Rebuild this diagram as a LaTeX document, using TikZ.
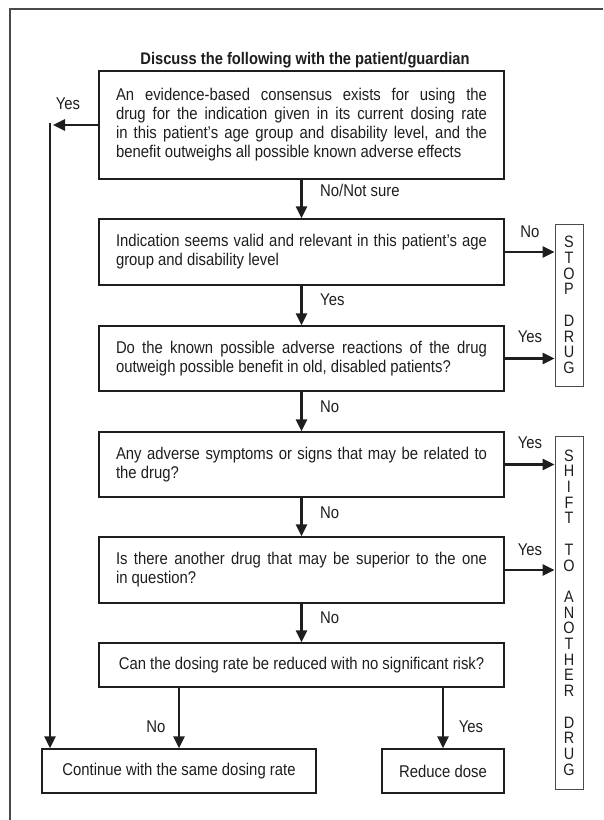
\documentclass[tikz,border=0pt]{standalone}
\usepackage{fontspec}
\setmainfont{Liberation Sans}[FakeStretch=0.875]
\usetikzlibrary{arrows.meta}
\definecolor{ink}{HTML}{1E1E1E}
\definecolor{framec}{HTML}{4A4A4A}
\newcommand\myBody{\fontsize{17}{19}\selectfont}
\newcommand\myTitle{\fontsize{16.8}{19}\selectfont\bfseries}
\newcommand\myLetters{\fontsize{16.5}{15.7}\selectfont}
\begin{document}
\begin{tikzpicture}[x=1pt,y=-1pt,
  box/.style={draw=ink, line width=1.25pt, text width=371pt, inner xsep=17pt, inner ysep=0pt,
              align=justify, font=\myBody, text=ink},
  endbox/.style={draw=ink, line width=1.25pt, inner sep=0pt, minimum height=44pt,
              align=center, font=\myBody, text=ink},
  stackbox/.style={draw=framec, line width=1pt, minimum width=28pt, inner sep=0pt,
              align=center, font=\myLetters, text=ink},
  lbl/.style={font=\myBody, text=ink, inner sep=0pt},
  ttl/.style={font=\myTitle, text=ink, inner sep=0pt},
  arr/.style={draw=ink, line width=2.7pt, -{Triangle[length=12pt,width=11pt]}}]
\useasboundingbox (0,0) rectangle (603,820);
\draw[framec, line width=1.3pt] (10,820) -- (10,9) -- (603,9);

\node[ttl] (title) at (305,60) {Discuss the following with the patient/guardian};

\node[box, minimum height=108pt] (b1) at (301.5,125)
 {An evidence-based consensus exists for using the\linebreak
  drug for the indication given in its current dosing rate\linebreak
  in this patient’s age group and disability level, and the\linebreak
  benefit outweighs all possible known adverse effects};
\node[box, minimum height=66pt] (b2) at (301.5,252)
 {Indication seems valid and relevant in this patient’s age\linebreak
  group and disability level};
\node[box, minimum height=65pt] (b3) at (301.5,358.5)
 {Do the known possible adverse reactions of the drug\linebreak
  outweigh possible benefit in old, disabled patients?};
\node[box, minimum height=65pt] (b4) at (301.5,464.5)
 {Any adverse symptoms or signs that may be related to\linebreak
  the drug?};
\node[box, minimum height=66pt] (b5) at (301.5,570)
 {Is there another drug that may be superior to the one\linebreak
  in question?};
\node[endbox, minimum width=405pt] (b6) at (301.5,665)
 {Can the dosing rate be reduced with no significant risk?};

\node[endbox, minimum width=274pt] (cont) at (179,771) {Continue with the same dosing rate};
\node[endbox, minimum width=122pt] (red) at (443,771) {Reduce dose};

\node[stackbox, minimum height=162pt] (stop) at (569,305)
 {S\\T\\O\\P\\[15.7pt]D\\R\\U\\G};
\node[stackbox, minimum height=353pt] (shift) at (569,612.5)
 {S\\H\\I\\F\\T\\[15.7pt]T\\O\\[15.7pt]A\\N\\O\\T\\H\\E\\R\\[15.7pt]D\\R\\U\\G};

% labels
\node[lbl] (lyes0) at (68,104) {Yes};
\node[lbl, anchor=west] (l12) at (320,190) {No/Not sure};
\node[lbl, anchor=west] (l23) at (320,300) {Yes};
\node[lbl, anchor=west] (l34) at (320,407) {No};
\node[lbl, anchor=west] (l45) at (320,513) {No};
\node[lbl, anchor=west] (l56) at (320,618) {No};
\node[lbl] (lno2) at (530,232) {No};
\node[lbl] (lyes3) at (530,337) {Yes};
\node[lbl] (lyes4) at (530,443) {Yes};
\node[lbl] (lyes5) at (530,550) {Yes};
\node[lbl] (lno6) at (156,727) {No};
\node[lbl] (lyes6) at (471,727) {Yes};

% connectors
\coordinate (ytip) at (53,125);
\coordinate (vtop) at (50,123);
\draw[arr] (b1.west) -- (ytip);
\draw[arr] (vtop) -- (vtop |- cont.north);
\draw[arr] (b1.south) -- (b2.north);
\draw[arr] (b2.south) -- (b3.north);
\draw[arr] (b3.south) -- (b4.north);
\draw[arr] (b4.south) -- (b5.north);
\draw[arr] (b5.south) -- (b6.north);
\draw[arr] (b2.east) -- (b2.east -| stop.west);
\draw[arr] (b3.east) -- (b3.east -| stop.west);
\draw[arr] (b4.east) -- (b4.east -| shift.west);
\draw[arr] (b5.east) -- (b5.east -| shift.west);
\draw[arr] (b6.south -| cont.north) -- (cont.north);
\draw[arr] (b6.south -| red.north) -- (red.north);
\end{tikzpicture}
\end{document}
